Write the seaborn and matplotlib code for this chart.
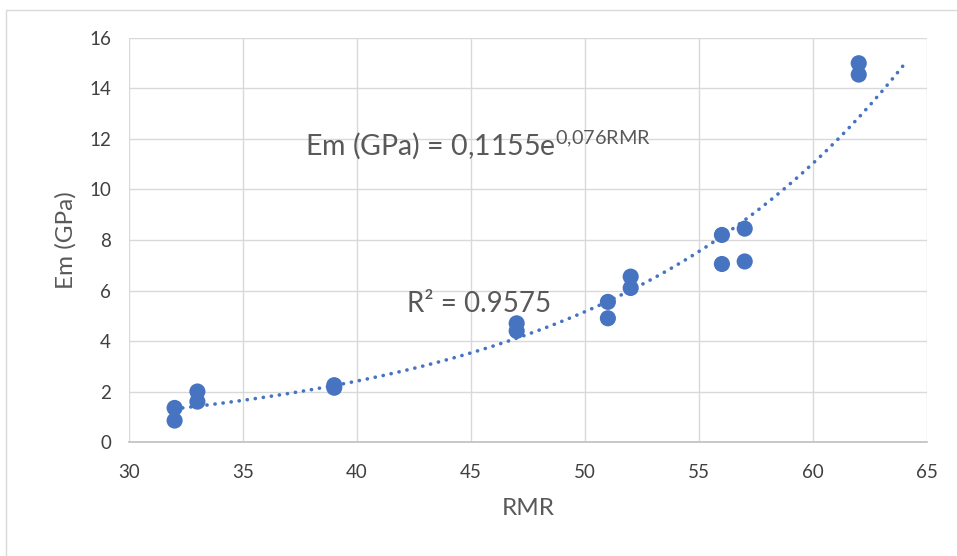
import numpy as np
import pandas as pd
import matplotlib
matplotlib.use("Agg")
import matplotlib.pyplot as plt
from matplotlib.patches import Rectangle
import seaborn as sns

# data
rmr = [32, 32, 33, 33, 39, 39, 47, 47, 51, 51, 52, 52, 56, 56, 57, 57, 62, 62]
em = [1.35, 0.85, 2.0, 1.6, 2.25, 2.15, 4.7, 4.4, 5.55, 4.9, 6.55, 6.1,
      8.2, 7.05, 8.45, 7.15, 15.0, 14.55]

# exponential trendline coefficients as printed on the chart
coef_a = 0.1155
coef_b = 0.076
trend_range = (32, 64)

df = pd.DataFrame({"RMR": rmr, "Em (GPa)": em})
trend_x = np.linspace(trend_range[0], trend_range[1], 200)
trend = pd.DataFrame({"RMR": trend_x, "Em (GPa)": coef_a * np.exp(coef_b * trend_x)})

sns.set_style("white")
plt.rcParams["font.family"] = ["Lato", "DejaVu Sans"]
plt.rcParams["mathtext.default"] = "regular"

blue = "#4674C1"
grey_text = "#595959"
tick_text = "#404040"

fig = plt.figure(figsize=(9.57, 5.56), dpi=100)
ax = fig.add_axes([0.1348, 0.205, 0.834, 0.7267])

# chart frame like the Excel chart area
fig.patches.append(Rectangle((0.006, -0.01), 1.1, 0.992, transform=fig.transFigure,
                             fill=False, edgecolor="#d9d9d9", linewidth=1))

sns.lineplot(data=trend, x="RMR", y="Em (GPa)", ax=ax, color=blue,
             linewidth=2.6, linestyle=(0, (0.05, 2.2)), dash_capstyle="round",
             zorder=3)
sns.scatterplot(data=df, x="RMR", y="Em (GPa)", ax=ax, color=blue, s=135,
                edgecolor="none", alpha=1, zorder=4)

ax.set_xlim(30, 65)
ax.set_ylim(0, 16)
ax.set_xticks(range(30, 66, 5))
ax.set_yticks(range(0, 17, 2))
ax.grid(True, color="#d9d9d9", linewidth=1)
ax.set_axisbelow(True)
for side in ["top", "right", "left"]:
    ax.spines[side].set_visible(False)
ax.spines["bottom"].set_color("#bfbfbf")
ax.spines["bottom"].set_linewidth(1.2)
ax.tick_params(axis="x", which="major", length=5, color="#bfbfbf", width=1,
               labelsize=13.5, labelcolor=tick_text, pad=11)
ax.tick_params(axis="y", which="major", length=0, labelsize=13.5,
               labelcolor=tick_text, pad=13)

ax.set_xlabel("RMR", fontsize=17.5, color=grey_text, labelpad=12)
ax.set_ylabel("Em (GPa)", fontsize=17.5, color=grey_text, labelpad=9)

ax.text(37.7, 11.37, r"Em (GPa) = 0,1155e$^{0{,}076RMR}$", fontsize=20.5,
        color=grey_text, va="baseline", ha="left")
ax.text(42.2, 5.15, "R² = 0.9575", fontsize=20, color=grey_text,
        va="baseline", ha="left")

fig.savefig("out.png", dpi=100, facecolor="white")
